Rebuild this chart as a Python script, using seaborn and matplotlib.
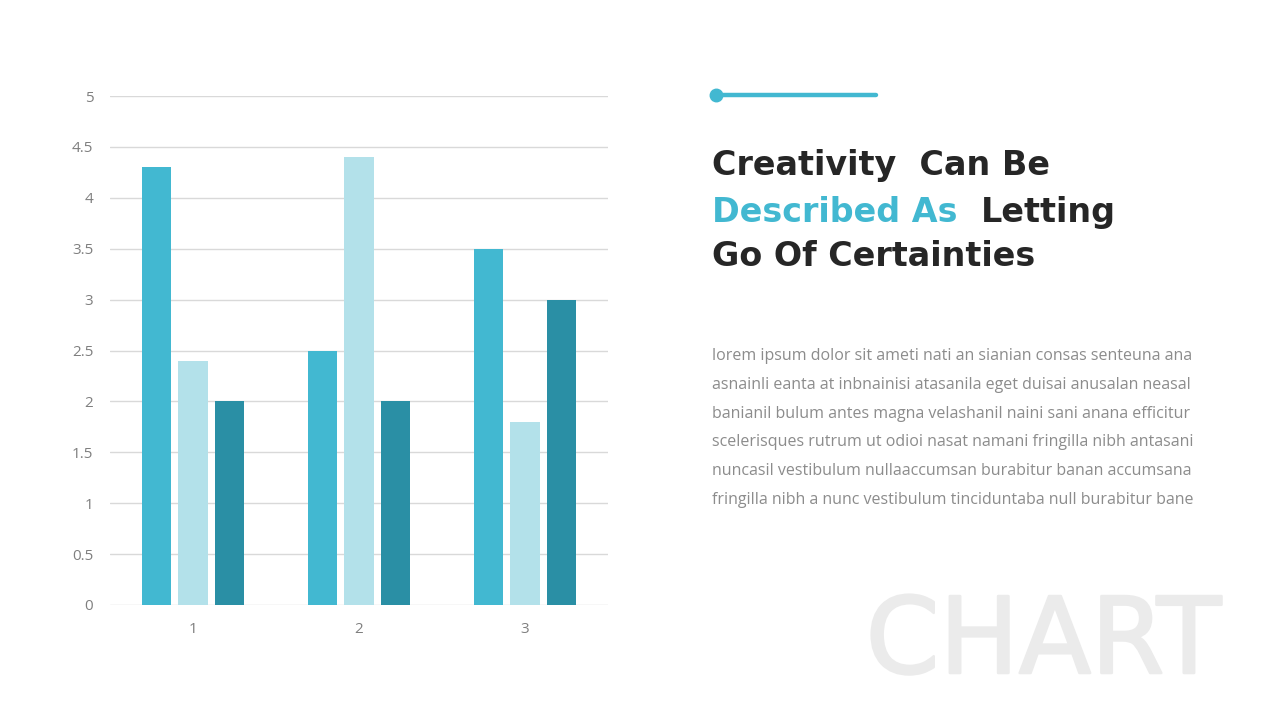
import matplotlib
matplotlib.use("Agg")
import matplotlib.pyplot as plt
import matplotlib.patheffects as pe
import seaborn as sns
import pandas as pd

categories = ["1", "2", "3"]
series_names = ["Series 1", "Series 2", "Series 3"]
series1 = [4.3, 2.5, 3.5]
series2 = [2.4, 4.4, 1.8]
series3 = [2.0, 2.0, 3.0]
y_ticks = [0, 0.5, 1, 1.5, 2, 2.5, 3, 3.5, 4, 4.5, 5]
y_tick_labels = ["0", "0.5", "1", "1.5", "2", "2.5", "3", "3.5", "4", "4.5", "5"]
colors = ["#42B8D1", "#B3E1EA", "#2A8FA5"]

title_line1 = "Creativity  Can Be"
title_line2_blue = "Described As"
title_line2_dark = "Letting"
title_line3 = "Go Of Certainties"
body_lines = [
    "lorem ipsum dolor sit ameti nati an sianian consas senteuna ana",
    "asnainli eanta at inbnainisi atasanila eget duisai anusalan neasal",
    "banianil bulum antes magna velashanil naini sani anana efficitur",
    "scelerisques rutrum ut odioi nasat namani fringilla nibh antasani",
    "nuncasil vestibulum nullaaccumsan burabitur banan accumsana",
    "fringilla nibh a nunc vestibulum tinciduntaba null burabitur bane",
]
watermark = "CHART"

rows = []
for name, vals in zip(series_names, [series1, series2, series3]):
    for c, v in zip(categories, vals):
        rows.append({"category": c, "series": name, "value": v})
df = pd.DataFrame(rows)

sns.set_theme(style="white")
plt.rcParams["font.family"] = ["Open Sans", "DejaVu Sans"]

fig = plt.figure(figsize=(12.8, 7.2), dpi=100)
ax = fig.add_axes([110 / 1280, 1 - 605 / 720, 498 / 1280, 509 / 720])

sns.barplot(data=df, x="category", y="value", hue="series", palette=colors,
            width=0.66, gap=0.2, ax=ax, legend=False, saturation=1,
            linewidth=0, errorbar=None)

ax.set_xlim(-0.5, 2.5)
ax.set_ylim(0, 5)
ax.set_yticks(y_ticks)
ax.set_yticklabels(y_tick_labels)
ax.set_xlabel("")
ax.set_ylabel("")
ax.grid(axis="y", color="#D9D9D9", linewidth=1)
ax.set_axisbelow(True)
for s in ax.spines.values():
    s.set_visible(False)
ax.tick_params(axis="both", length=0, labelsize=11, labelcolor="#7F7F7F")
ax.tick_params(axis="y", pad=12)
ax.tick_params(axis="x", pad=12)

# decorative line
fig.add_artist(plt.Line2D([716 / 1280, 876 / 1280], [1 - 95 / 720, 1 - 95 / 720],
                          color="#42B8D1", linewidth=3.2, transform=fig.transFigure))
fig.add_artist(plt.Line2D([716 / 1280], [1 - 95 / 720], marker="o", markersize=9,
                          color="#42B8D1", linewidth=0, transform=fig.transFigure))

tfont = dict(family=["DejaVu Sans"], fontweight="bold", fontsize=24)
x0 = 712 / 1280
fig.text(x0, 1 - 166 / 720, title_line1, color="#262626", va="center", **tfont)
t2 = fig.text(x0, 1 - 212 / 720, title_line2_blue + "  ", color="#42B8D1", va="center", **tfont)
fig.canvas.draw()
r = fig.canvas.get_renderer()
bb = t2.get_window_extent(renderer=r)
fig.text(bb.x1 / 1280, 1 - 212 / 720, title_line2_dark, color="#262626", va="center", **tfont)
fig.text(x0, 1 - 256 / 720, title_line3, color="#262626", va="center", **tfont)

for i, line in enumerate(body_lines):
    fig.text(x0, 1 - (356 + i * 28.8) / 720, line, color="#8C8C8C", fontsize=11.5,
             va="center", family=["Open Sans"])

fig.text(1221 / 1280, 1 - 673 / 720, watermark, color="#EBEBEB", fontsize=76,
         fontweight="normal", family=["DejaVu Sans"], ha="right", va="baseline", zorder=0,
         path_effects=[pe.withStroke(linewidth=1.8, foreground="#EBEBEB")])

fig.savefig("out.png", dpi=100, facecolor="white")
